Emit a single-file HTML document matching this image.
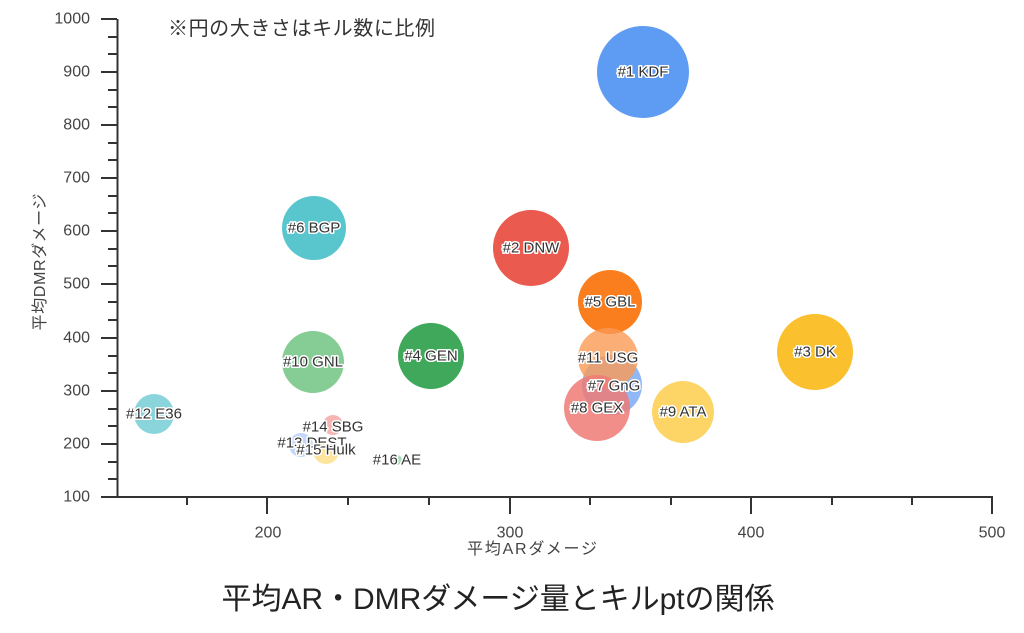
<!DOCTYPE html>
<html><head><meta charset="utf-8"><style>
body{margin:0;background:#fff;}
svg{display:block;font-family:"Liberation Sans","Noto Sans CJK JP",sans-serif;}
.l{font-size:15px;fill:#333;stroke:#fff;stroke-width:3px;paint-order:stroke;stroke-linejoin:round;text-anchor:middle;dominant-baseline:central;}
.t{font-size:16px;fill:#444;}
</style></head><body>
<svg width="1024" height="633" viewBox="0 0 1024 633">
<rect width="1024" height="633" fill="#fff"/>
<g stroke="#333" stroke-width="2" fill="none">
<line x1="117.5" y1="19" x2="117.5" y2="497"/>
<line x1="117" y1="497" x2="993" y2="497"/>
<path d="M101 19H117M101 72H117M101 125H117M101 178H117M101 231H117M101 284H117M101 338H117M101 391H117M101 444H117M101 497H117"/>
<path d="M108 37H117M108 54H117M108 90H117M108 107H117M108 143H117M108 160H117M108 196H117M108 213H117M108 249H117M108 266H117M108 302H117M108 320H117M108 356H117M108 373H117M108 409H117M108 426H117M108 462H117M108 479H117"/>
<path d="M267 497V514M510 497V514M751 497V514M992 497V514"/>
<path d="M187 497V505M348 497V505M429 497V505M590 497V505M671 497V505M832 497V505M912 497V505"/>
</g>
<g class="t" text-anchor="end" dominant-baseline="central">
<text x="90" y="19">1000</text><text x="90" y="72">900</text><text x="90" y="125">800</text><text x="90" y="178">700</text><text x="90" y="231">600</text><text x="90" y="284">500</text><text x="90" y="338">400</text><text x="90" y="391">300</text><text x="90" y="444">200</text><text x="90" y="497">100</text>
</g>
<g class="t" text-anchor="middle" dominant-baseline="central">
<text x="268" y="533">200</text><text x="510" y="533">300</text><text x="751" y="533">400</text><text x="992" y="533">500</text>
</g>
<text x="532" y="554" class="t" font-size="17" text-anchor="middle" textLength="130">平均ARダメージ</text>
<text transform="translate(45,262) rotate(-90)" class="t" font-size="17" text-anchor="middle" textLength="137">平均DMRダメージ</text>
<text x="168" y="35" font-size="20" fill="#333" textLength="267">※円の大きさはキル数に比例</text>
<text x="498" y="609" font-size="30" fill="#222" text-anchor="middle" textLength="553">平均AR・DMRダメージ量とキルptの関係</text>
<g>
<circle cx="643" cy="72" r="46" fill="#5e9bf2"/>
<circle cx="531" cy="248" r="38" fill="#ea5a4f"/>
<circle cx="815" cy="352" r="38" fill="#fbc02d"/>
<circle cx="431" cy="356" r="33" fill="#3fa85a"/>
<circle cx="314" cy="228" r="32" fill="#59c5cd"/>
<circle cx="610" cy="302" r="32" fill="#fa7d1e"/>
<circle cx="313" cy="362" r="31" fill="#85cc95"/>
<circle cx="612" cy="385" r="30" fill="#8ab4f7" opacity="0.95"/>
<circle cx="608" cy="358" r="30" fill="#fb9a55" opacity="0.8"/>
<circle cx="597" cy="408" r="33" fill="#ee7a75" opacity="0.85"/>
<circle cx="683" cy="412" r="31" fill="#fdd567"/>
<circle cx="154" cy="414" r="20" fill="#8ad4dc"/>
<circle cx="333" cy="425" r="10" fill="#f4a3a0" opacity="0.8"/>
<circle cx="301" cy="445" r="12" fill="#b3cdfa" opacity="0.8"/>
<circle cx="326" cy="451" r="13" fill="#fde08c" opacity="0.85"/>
<circle cx="397" cy="460" r="5" fill="#a8dcb4"/>
</g>
<g class="l">
<text x="643" y="72">#1 KDF</text>
<text x="531" y="248">#2 DNW</text>
<text x="815" y="352">#3 DK</text>
<text x="431" y="356">#4 GEN</text>
<text x="314" y="228">#6 BGP</text>
<text x="610" y="302">#5 GBL</text>
<text x="313" y="362">#10 GNL</text>
<text x="608" y="358">#11 USG</text>
<text x="614" y="386">#7 GnG</text>
<text x="597" y="408">#8 GEX</text>
<text x="683" y="412">#9 ATA</text>
<text x="154" y="414">#12 E36</text>
<text x="312" y="443">#13 DEST</text>
<text x="333" y="427">#14 SBG</text>
<text x="326" y="450">#15 Hulk</text>
<text x="397" y="460">#16 AE</text>
</g>
</svg>
</body></html>
